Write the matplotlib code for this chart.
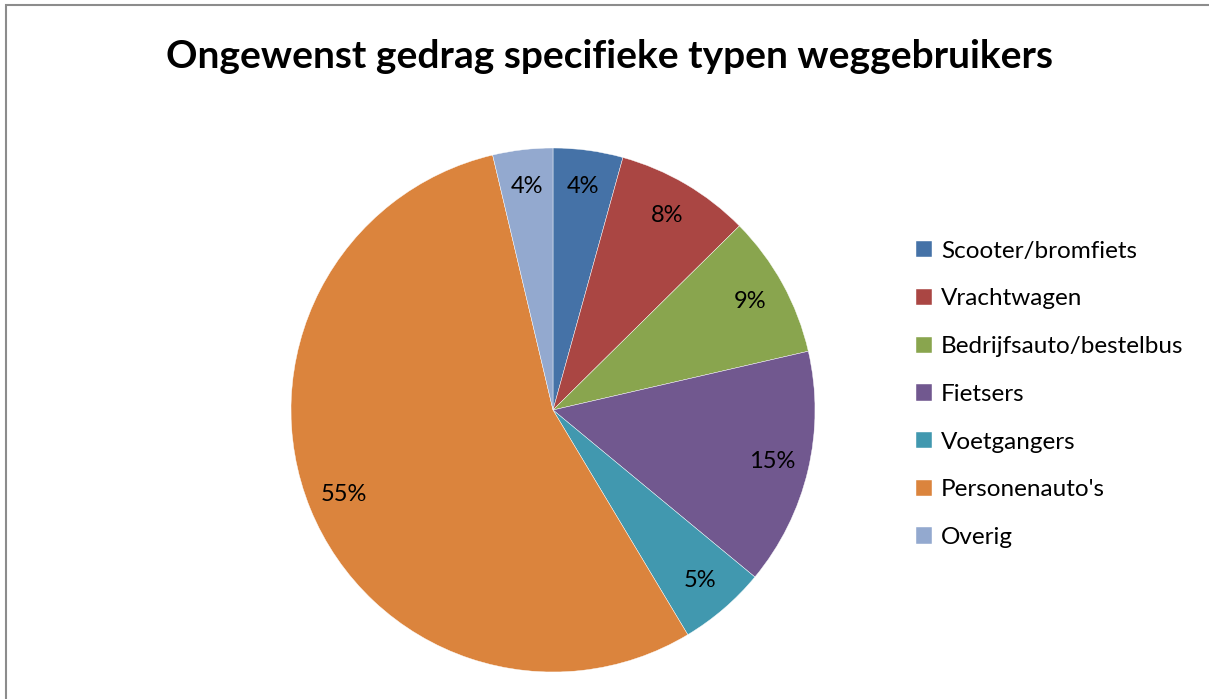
import matplotlib
matplotlib.use("Agg")
import matplotlib.pyplot as plt
from matplotlib.patches import Rectangle

categories = ["Scooter/bromfiets", "Vrachtwagen", "Bedrijfsauto/bestelbus",
              "Fietsers", "Voetgangers", "Personenauto's", "Overig"]
shares = [4.3, 8.3, 8.8, 14.6, 5.4, 54.9, 3.7]
colors = ["#4572A7", "#AA4643", "#89A54E", "#71588F", "#4198AF", "#DB843D", "#93A9CF"]
title = "Ongewenst gedrag specifieke typen weggebruikers"

plt.rcParams["font.family"] = ["Lato", "DejaVu Sans"]

fig = plt.figure(figsize=(12.09, 6.99), dpi=100)
fig.patch.set_facecolor("white")

# chart frame
fig.patches.append(Rectangle((6 / 1209, -0.01), 1.2, 1 - 5 / 699 + 0.01,
                             transform=fig.transFigure, fill=False,
                             edgecolor="#8c8c8c", linewidth=1.5))

fig.text(609 / 1209, 1 - 56 / 699, title, ha="center", va="center",
         fontsize=28, fontweight="bold", color="black")

# pie axes: centre (553, 410), radius ~262 px
r = 262
cx, cy = 553, 410
ax = fig.add_axes([(cx - r) / 1209, 1 - (cy + r) / 699, 2 * r / 1209, 2 * r / 699])
wedges, texts, autotexts = ax.pie(
    shares, colors=colors, startangle=90, counterclock=False,
    autopct="%1.0f%%", pctdistance=0.86, radius=1.0,
    wedgeprops=dict(linewidth=0.3, edgecolor="white"),
    textprops=dict(fontsize=17, color="black"))
ax.set_xlim(-1, 1)
ax.set_ylim(-1, 1)
ax.set_aspect("equal")

leg = fig.legend(wedges, categories, loc="upper left",
                 bbox_to_anchor=(906 / 1209, 1 - 231 / 699),
                 frameon=False, fontsize=17.5, handlelength=0.65, handleheight=0.65,
                 handletextpad=0.4, labelspacing=1.1, borderaxespad=0)

fig.savefig("out.png", dpi=100, facecolor="white")
